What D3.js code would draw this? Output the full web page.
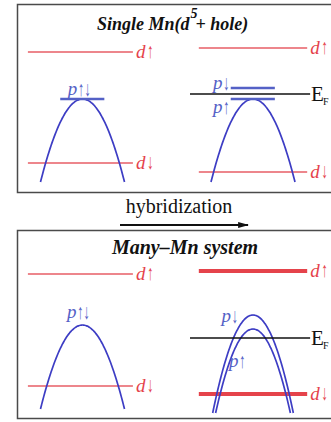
<!DOCTYPE html>
<html>
<head>
<meta charset="utf-8">
<script src="https://cdn.jsdelivr.net/npm/d3@7"></script>
<style>
  html, body { margin: 0; padding: 0; background: #fff; }
  svg { display: block; }
</style>
</head>
<body>
<svg id="chart" width="331" height="422"></svg>
<script>
// Schematic band picture: Mn d levels and host p band, before and after hybridization.
const panelTitles = ["Single Mn(d", "Many\u2013Mn system"];
const columnNames = ["bare", "hybridized"];

// d levels: energy in arbitrary units (0 = bottom of panel window)
const dLevels = [
  { panel: 0, col: 0, spin: "\u2191", energy: 143, many: false },
  { panel: 0, col: 0, spin: "\u2193", energy: 32,  many: false },
  { panel: 0, col: 1, spin: "\u2191", energy: 147, many: false },
  { panel: 0, col: 1, spin: "\u2193", energy: 23,  many: false },
  { panel: 1, col: 0, spin: "\u2191", energy: 147, many: false },
  { panel: 1, col: 0, spin: "\u2193", energy: 35,  many: false },
  { panel: 1, col: 1, spin: "\u2191", energy: 150, many: true },
  { panel: 1, col: 1, spin: "\u2193", energy: 27,  many: true }
];

// p bands: top energy, energy at the band edge, and k extent
const pBands = [
  { panel: 0, col: 0, spin: "\u2191\u2193", peak: 96,  edge: 13, kMax: 1.0 },
  { panel: 0, col: 1, spin: "\u2191",       peak: 96,  edge: 13, kMax: 1.0 },
  { panel: 1, col: 0, spin: "\u2191\u2193", peak: 96,  edge: 12, kMax: 1.0 },
  { panel: 1, col: 1, spin: "\u2193",       peak: 106, edge: 8,  kMax: 0.96 },
  { panel: 1, col: 1, spin: "\u2191",       peak: 92,  edge: 8,  kMax: 0.89 }
];

// localized p-hole levels of the single impurity
const pLevels = [
  { panel: 0, col: 0, spin: "\u2191\u2193", energy: 96 },
  { panel: 0, col: 1, spin: "\u2193", energy: 107 },
  { panel: 0, col: 1, spin: "\u2191", energy: 96 }
];

// Fermi level after hybridization
const fermiLevels = [
  { panel: 0, energy: 101 },
  { panel: 1, energy: 83 }
];

// p-state labels: spin text, momentum and energy of the anchor
const pLabels = [
  { panel: 0, col: 0, text: "\u2191\u2193", k: -0.35, energy: 100 },
  { panel: 0, col: 1, text: "\u2193", k: -0.95, energy: 106 },
  { panel: 0, col: 1, text: "\u2191", k: -0.95, energy: 82 },
  { panel: 1, col: 0, text: "\u2191\u2193", k: -0.37, energy: 103 },
  { panel: 1, col: 1, text: "\u2193", k: -0.75, energy: 99 },
  { panel: 1, col: 1, text: "\u2191", k: -0.57, energy: 54 }
];

const RED = "#e5434b", BLUE = "#3d3dc4", BLUE_LIGHT = "#5461c6";
const svg = d3.select("#chart");

const panelTop = [5, 231];
const panelHeight = [188, 188];
const colCenter = [82.5, 253];
const halfWidth = 42;

const yScale = panelTop.map(t => d3.scaleLinear().domain([0, 190]).range([t + 190, t]));
const xScale = colCenter.map(c => d3.scaleLinear().domain([-1, 1]).range([c - halfWidth, c + halfWidth]));

// panel frames (run past the right edge)
svg.selectAll("rect.frame").data(panelTop).join("rect")
  .attr("class", "frame")
  .attr("x", 17.5).attr("y", (d) => d - 0.5)
  .attr("width", 340).attr("height", (d, i) => panelHeight[i])
  .attr("fill", "none").attr("stroke", "#4a4a4a").attr("stroke-width", 1.5);

// titles
const serif = "'Liberation Serif','DejaVu Serif',serif";
const t0 = svg.append("text")
  .attr("x", 97).attr("y", 30)
  .attr("font-family", serif).attr("font-size", 18)
  .attr("font-weight", "bold").attr("font-style", "italic").attr("fill", "#111");
t0.append("tspan").text(panelTitles[0]);
t0.append("tspan").attr("dx", 1).attr("dy", -12).attr("font-size", 14).text("5");
t0.append("tspan").attr("dy", 12).attr("dx", -2).text("+ hole)");

svg.append("text")
  .attr("x", 185).attr("y", 254).attr("text-anchor", "middle")
  .attr("font-family", serif).attr("font-size", 20)
  .attr("font-weight", "bold").attr("font-style", "italic").attr("fill", "#111")
  .text(panelTitles[1]);

// hybridization arrow
svg.append("text")
  .attr("x", 179).attr("y", 213).attr("text-anchor", "middle")
  .attr("font-family", serif).attr("font-size", 20).attr("fill", "#111")
  .text("hybridization");
svg.append("defs").append("marker")
  .attr("id", "head").attr("viewBox", "0 0 10 10")
  .attr("refX", 9).attr("refY", 5)
  .attr("markerWidth", 11).attr("markerHeight", 6)
  .attr("markerUnits", "userSpaceOnUse").attr("orient", "auto")
  .attr("preserveAspectRatio", "none")
  .append("path").attr("d", "M0,0L10,5L0,10Z").attr("fill", "#111");
svg.append("line")
  .attr("x1", 120).attr("x2", 248).attr("y1", 225).attr("y2", 225)
  .attr("stroke", "#111").attr("stroke-width", 2.2)
  .attr("marker-end", "url(#head)");

const levelK = [[-1.3, 1.2], [-1.29, 1.29]];

// spin arrows as tall, narrow glyphs
function spinText(x, y, txt, color) {
  svg.append("text")
    .attr("transform", `translate(${x},${y}) scale(0.8,1.3)`)
    .attr("font-family", serif).attr("font-size", 16).attr("fill", color)
    .text(txt);
}

// d levels
dLevels.forEach(d => {
  const x = xScale[d.col], y = yScale[d.panel](d.energy);
  const [k0, k1] = levelK[d.col];
  svg.append("line")
    .attr("x1", x(k0)).attr("x2", x(k1)).attr("y1", y).attr("y2", y)
    .attr("stroke", RED).attr("stroke-width", d.many ? 4 : 1.5)
    .attr("opacity", d.many ? 1 : 0.85);
  svg.append("text")
    .attr("x", x(k1) + 3).attr("y", y + 6)
    .attr("font-family", serif).attr("font-size", 19).attr("font-style", "italic")
    .attr("fill", RED).text("d");
  spinText(x(k1) + 14, y + 6, d.spin, RED);
});

// p bands (parabolic dispersion)
const bandLine = d3.line().curve(d3.curveBasis);
pBands.forEach(b => {
  const x = xScale[b.col], y = yScale[b.panel];
  const curv = (b.peak - b.edge) / (b.kMax * b.kMax);
  const pts = d3.range(-b.kMax, b.kMax + 1e-9, b.kMax / 40)
    .map(k => [x(k), y(b.peak - curv * k * k)]);
  svg.append("path").attr("d", bandLine(pts))
    .attr("fill", "none").attr("stroke", BLUE).attr("stroke-width", 1.7);
});

// flat p levels
pLevels.forEach(p => {
  const x = xScale[p.col], y = yScale[p.panel](p.energy);
  svg.append("line")
    .attr("x1", x(-0.53)).attr("x2", x(0.52)).attr("y1", y).attr("y2", y)
    .attr("stroke", BLUE_LIGHT).attr("stroke-width", 2.5);
});

// Fermi levels
fermiLevels.forEach(f => {
  const x = xScale[1], y = yScale[f.panel](f.energy);
  svg.append("line")
    .attr("x1", x(-1.5)).attr("x2", x(1.36)).attr("y1", y).attr("y2", y)
    .attr("stroke", "#111").attr("stroke-width", 1.5);
  const t = svg.append("text")
    .attr("x", x(1.36) + 1).attr("y", y + 7)
    .attr("font-family", serif).attr("font-size", 21).attr("fill", "#111");
  t.append("tspan").text("E");
  t.append("tspan").attr("dy", 4).attr("dx", -1).attr("font-size", 10).text("F");
});

// p labels
pLabels.forEach(l => {
  const x = xScale[l.col](l.k), y = yScale[l.panel](l.energy);
  svg.append("text")
    .attr("x", x).attr("y", y)
    .attr("font-family", serif).attr("font-size", 19).attr("font-style", "italic")
    .attr("fill", BLUE_LIGHT).text("p");
  spinText(x + 10, y + 1, l.text, BLUE_LIGHT);
});
</script>
</body>
</html>
